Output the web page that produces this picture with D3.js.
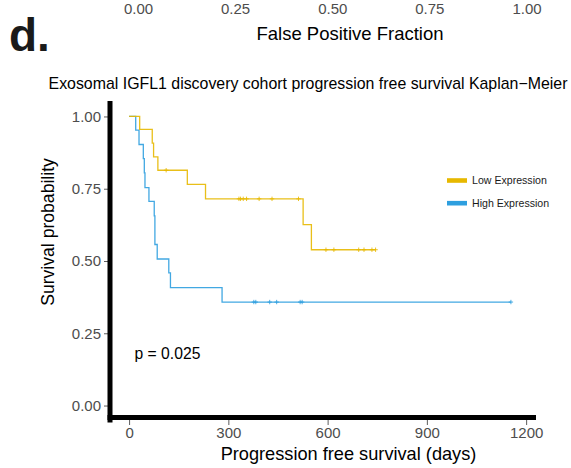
<!DOCTYPE html>
<html>
<head>
<meta charset="utf-8">
<script src="https://cdn.jsdelivr.net/npm/d3@7"></script>
<style>
  html, body { margin: 0; padding: 0; background: #fff; }
  svg { display: block; font-family: "Liberation Sans", Arial, Helvetica, sans-serif; }
</style>
</head>
<body>
<svg id="chart" width="571" height="468"></svg>
<script>
// Kaplan-Meier step curves: event times (days) and survival after each step
const lowTimes = [0, 32, 70, 74, 87, 176, 231, 526, 551];
const lowSurv  = [1, 0.955, 0.908, 0.860, 0.814, 0.765, 0.715, 0.626, 0.539];
const lowEnd = 745;
const lowCensor = [112, 332, 337, 345, 355, 393, 432, 512, 595, 619, 694, 710, 734, 745];

const highTimes = [0, 20, 30, 43, 46, 48, 60, 76, 78, 85, 120, 125, 281];
const highSurv  = [1, 0.953, 0.903, 0.854, 0.805, 0.754, 0.706, 0.656, 0.557, 0.507, 0.459, 0.408, 0.358];
const highEnd = 1154;
const highCensor = [377, 383, 425, 446, 517, 523, 1154];

const groupNames = ["Low Expression", "High Expression"];
const groupColors = ["#E7B800", "#2E9FDF"];

const xTicks = [0, 300, 600, 900, 1200];
const yTicks = [0, 0.25, 0.5, 0.75, 1];
const rocTicks = ["0.00", "0.25", "0.50", "0.75", "1.00"];

const pText = "p = 0.025";
const titleText = "Exosomal IGFL1 discovery cohort progression free survival Kaplan\u2212Meier";

const svg = d3.select("#chart");
const grey = "#4D4D4D";

// ---- remnant of the panel above: its x axis labels and title ----
const rocX = d3.scalePoint().domain(rocTicks).range([138.5, 527]);
svg.append("g").selectAll("text").data(rocTicks).join("text")
  .attr("x", d => rocX(d)).attr("y", 14)
  .attr("text-anchor", "middle").attr("fill", grey)
  .style("font-size", "15px").text(d => d);
svg.append("text").attr("x", 350).attr("y", 39.5)
  .attr("text-anchor", "middle").attr("fill", "#000")
  .style("font-size", "18.5px").text("False Positive Fraction");

// panel tag
svg.append("text").attr("x", 9).attr("y", 51)
  .attr("fill", "#1a1a1a").style("font-size", "46px").style("font-weight", "bold")
  .text("d.");

// ---- survival panel ----
const panel = {left: 110, right: 530, top: 102, bottom: 420};
const x = d3.scaleLinear().domain([-57.7, 1211.7]).range([panel.left, panel.right]);
const y = d3.scaleLinear().domain([-0.05, 1.05]).range([panel.bottom, panel.top]);

svg.append("text").attr("x", 308).attr("y", 88.5)
  .attr("text-anchor", "middle").attr("fill", "#000")
  .style("font-size", "15.9px").text(titleText);

// axis ticks + labels
const xAxis = d3.axisBottom(x).tickValues(xTicks).tickSize(5).tickPadding(2).tickFormat(d3.format("d"));
const gx = svg.append("g").attr("transform", `translate(0,${panel.bottom})`).call(xAxis);
gx.select(".domain").remove();
gx.selectAll("line").attr("stroke", "#333").attr("stroke-width", 0.8);
gx.selectAll("text").attr("fill", grey).style("font-size", "15px").style("font-family", "inherit");

const yAxis = d3.axisLeft(y).tickValues(yTicks).tickSize(6).tickPadding(3).tickFormat(d3.format(".2f"));
const gy = svg.append("g").attr("transform", `translate(${panel.left},0)`).call(yAxis);
gy.select(".domain").remove();
gy.selectAll("line").attr("stroke", "#333").attr("stroke-width", 0.8);
gy.selectAll("text").attr("fill", grey).style("font-size", "15px").style("font-family", "inherit");

// thick axis lines
svg.append("line").attr("x1", panel.left).attr("x2", panel.left)
  .attr("y1", panel.top - 1).attr("y2", panel.bottom + 2.5)
  .attr("stroke", "#000").attr("stroke-width", 5);
svg.append("line").attr("x1", panel.left - 2.5).attr("x2", panel.right + 6)
  .attr("y1", panel.bottom - 2.5).attr("y2", panel.bottom - 2.5)
  .attr("stroke", "#000").attr("stroke-width", 5);

// axis titles
svg.append("text").attr("x", 348.5).attr("y", 459.5)
  .attr("text-anchor", "middle").attr("fill", "#000")
  .style("font-size", "18.2px").text("Progression free survival (days)");
svg.append("text").attr("transform", `translate(53.5,${(panel.top + panel.bottom) / 2 - 29}) rotate(-90)`)
  .attr("text-anchor", "middle").attr("fill", "#000")
  .style("font-size", "17.6px").text("Survival probability");

// step curves
const curves = [
  {times: lowTimes, surv: lowSurv, end: lowEnd, censor: lowCensor, color: groupColors[0]},
  {times: highTimes, surv: highSurv, end: highEnd, censor: highCensor, color: groupColors[1]}
];
const line = d3.line().x(d => x(d[0])).y(d => y(d[1])).curve(d3.curveStepAfter);

function survAt(c, t) {
  let s = 1;
  c.times.forEach((tt, i) => { if (tt <= t) s = c.surv[i]; });
  return s;
}

curves.slice().reverse().forEach(c => {
  const pts = c.times.map((t, i) => [t, c.surv[i]]);
  pts.push([c.end, c.surv[c.surv.length - 1]]);
  svg.append("path").datum(pts).attr("d", line)
    .attr("fill", "none").attr("stroke", c.color).attr("stroke-width", 1.3).attr("stroke-opacity", 0.9);
  // censor marks
  svg.append("g").selectAll("path").data(c.censor).join("path")
    .attr("d", t => {
      const cx = x(t), cy = y(survAt(c, t));
      return `M${cx - 2.2},${cy}H${cx + 2.2}M${cx},${cy - 2.2}V${cy + 2.2}`;
    })
    .attr("stroke", c.color).attr("stroke-width", 1).attr("stroke-opacity", 0.85);
});

// p-value
svg.append("text").attr("x", 134.5).attr("y", 358.5).attr("fill", "#000")
  .style("font-size", "15.7px").text(pText);

// legend
const legend = svg.append("g").attr("transform", "translate(447,180.5)");
groupNames.forEach((name, i) => {
  const g = legend.append("g").attr("transform", `translate(0,${i * 22.7})`);
  g.append("rect").attr("x", 0).attr("y", -2.3).attr("width", 20).attr("height", 4.6).attr("fill", groupColors[i]);
  g.append("text").attr("x", 25).attr("y", 3.8).attr("fill", "#1a1a1a")
    .style("font-size", "10.6px").text(name);
});
</script>
</body>
</html>
